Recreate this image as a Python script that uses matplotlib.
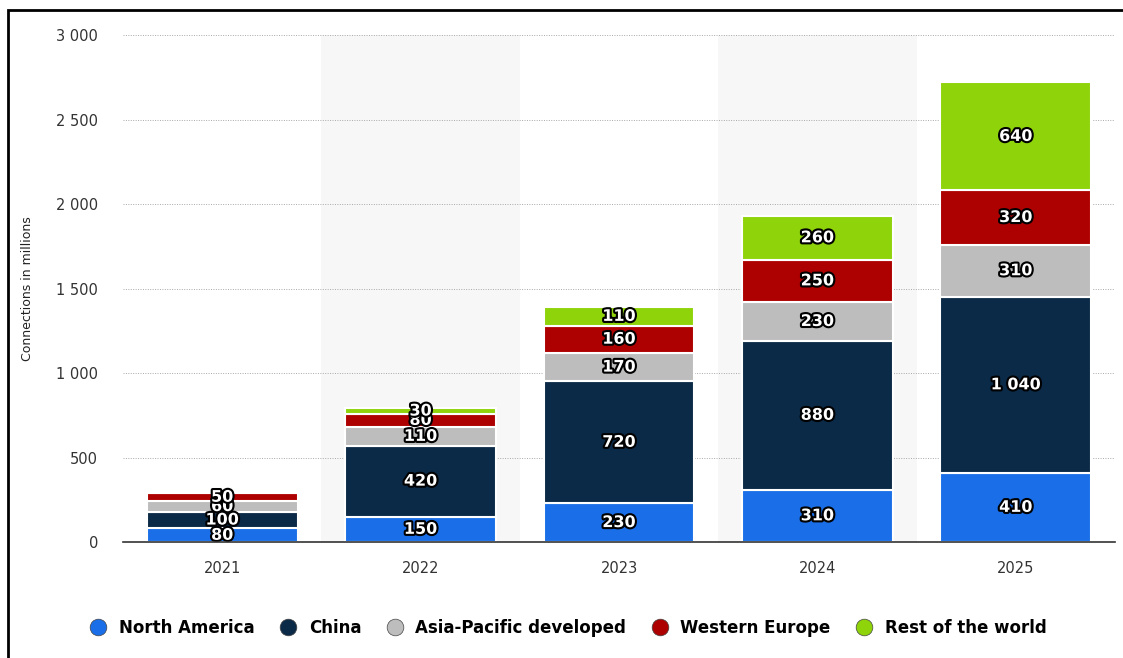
import matplotlib
matplotlib.use("Agg")
import matplotlib.pyplot as plt
import matplotlib.patheffects as pe
from matplotlib.lines import Line2D
from matplotlib.patches import Rectangle
import numpy as np

years = ["2021", "2022", "2023", "2024", "2025"]
series_names = ["North America", "China", "Asia-Pacific developed", "Western Europe", "Rest of the world"]
north_america = [80, 150, 230, 310, 410]
china = [100, 420, 720, 880, 1040]
asia_pacific = [60, 110, 170, 230, 310]
western_europe = [50, 80, 160, 250, 320]
rest_of_world = [0, 30, 110, 260, 640]
colors = ["#1a6fe8", "#0b2a48", "#bdbdbd", "#ad0000", "#8fd30a"]
yticks = [0, 500, 1000, 1500, 2000, 2500, 3000]

data = [north_america, china, asia_pacific, western_europe, rest_of_world]

plt.rcParams['font.family'] = ['DejaVu Sans']
fig = plt.figure(figsize=(11.23, 6.58), dpi=100)
ax = fig.add_axes([123/1123, 1-542/658, (1115-123)/1123, (542-35)/658])

x = np.arange(len(years))
# alternating background bands
for i in x:
    if i % 2 == 1:
        ax.axvspan(i-0.5, i+0.5, color="#f7f7f7", zorder=0, lw=0)

for yv in yticks[1:]:
    ax.axhline(yv, color="#a8a8a8", lw=0.7, ls=(0, (1, 1.5)), zorder=1)

bottom = np.zeros(len(years))
for name, vals, col in zip(series_names, data, colors):
    vals = np.array(vals, dtype=float)
    ax.bar(x, vals, bottom=bottom, width=0.76, color=col, edgecolor="white",
           linewidth=1.5, zorder=2, label=name)
    for xi, b, v in zip(x, bottom, vals):
        if v > 0:
            lab = f"{int(v):,}".replace(",", " ")
            ax.text(xi, b + v/2, lab, ha="center", va="center", color="white",
                    fontsize=11.5, fontweight="bold", zorder=5,
                    path_effects=[pe.withStroke(linewidth=3, foreground="black")])
    bottom += vals

ax.set_xlim(-0.5, 4.5)
ax.set_ylim(0, 3000)
ax.set_yticks(yticks)
ax.set_yticklabels([f"{v:,}".replace(",", " ") for v in yticks], fontsize=10.5, color="#333333")
ax.set_xticks(x)
ax.set_xticklabels(years, fontsize=10.5, color="#333333")
ax.tick_params(axis="both", length=0)
ax.tick_params(axis="y", pad=18)
ax.tick_params(axis="x", pad=14)
for s in ["top", "right", "left"]:
    ax.spines[s].set_visible(False)
ax.spines["bottom"].set_color("#333333")
ax.spines["bottom"].set_linewidth(1.2)
ax.spines["bottom"].set_zorder(6)
ax.set_ylabel("Connections in millions", fontsize=9, color="#222222", labelpad=16)

handles = [Line2D([0], [0], marker="o", ls="", markersize=12, markerfacecolor=c,
                  markeredgecolor="#444444", markeredgewidth=0.5) for c in colors]
fig.legend(handles, series_names, loc="center", bbox_to_anchor=(564/1123, 1-628/658),
           ncol=5, frameon=False, prop={"weight": "bold", "size": 12},
           handletextpad=0.25, columnspacing=1.0)

# figure border
fig.add_artist(Rectangle((8/1123, -0.1), 1.2, 1-10/658+0.1, transform=fig.transFigure,
                         fill=False, edgecolor="black", lw=2))

fig.savefig("out.png", dpi=100)
